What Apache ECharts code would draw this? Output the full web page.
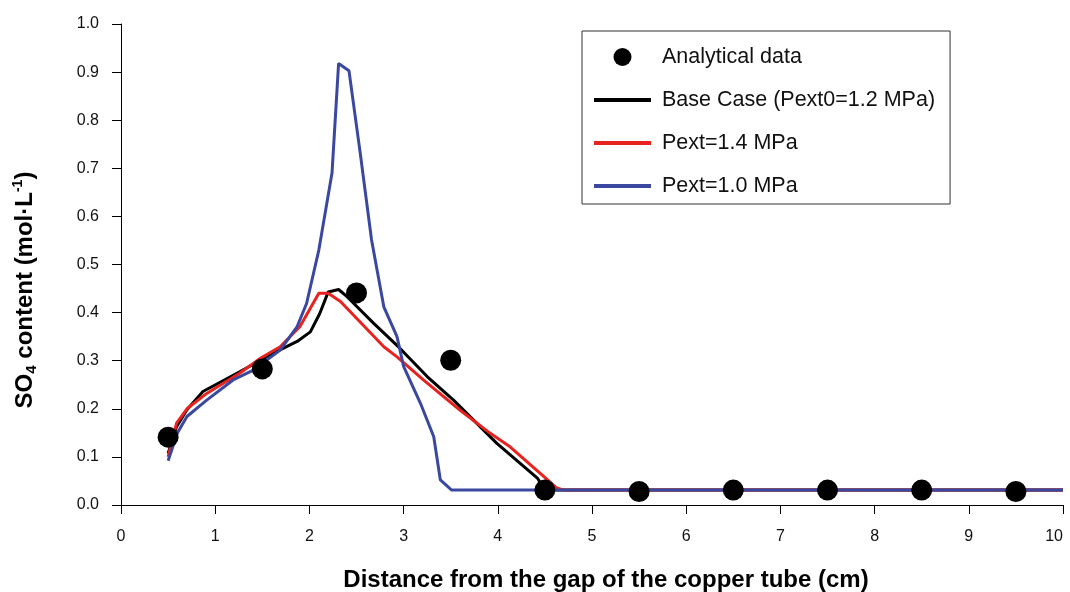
<!DOCTYPE html>
<html>
<head>
<meta charset="utf-8">
<script src="https://cdn.jsdelivr.net/npm/echarts@6/dist/echarts.min.js"></script>
<style>
  html, body { margin: 0; padding: 0; background: #fff; }
  #chart { width: 1070px; height: 592px; }
</style>
</head>
<body>
<div id="chart"></div>
<script>
// measured points (cm, mol/L)
const analyticalX = [0.5, 1.5, 2.5, 3.5, 4.5, 5.5, 6.5, 7.5, 8.5, 9.5]
const analyticalY = [0.141, 0.283, 0.441, 0.301, 0.031, 0.028, 0.031, 0.031, 0.031, 0.028]

// base case, Pext0 = 1.2 MPa
const baseX = [0.5, 0.59, 0.7, 0.87, 1.26, 1.65, 1.87, 2.01, 2.11, 2.2, 2.31, 2.4, 2.68, 2.96, 3.25, 3.53, 3.99, 4.42, 4.5, 10]
const baseY = [0.107, 0.163, 0.198, 0.236, 0.277, 0.319, 0.34, 0.36, 0.398, 0.443, 0.448, 0.433, 0.378, 0.326, 0.267, 0.218, 0.128, 0.056, 0.031, 0.031]

// Pext = 1.4 MPa
const p14X = [0.5, 0.59, 0.7, 0.91, 1.26, 1.48, 1.69, 1.9, 2.1, 2.2, 2.33, 2.79, 2.93, 3.21, 3.6, 3.92, 4.13, 4.49, 4.62, 4.7, 10]
const p14Y = [0.1, 0.17, 0.2, 0.232, 0.274, 0.305, 0.329, 0.371, 0.44, 0.44, 0.423, 0.329, 0.308, 0.26, 0.197, 0.149, 0.121, 0.059, 0.036, 0.031, 0.031]

// Pext = 1.0 MPa
const p10X = [0.5, 0.6, 0.7, 0.91, 1.19, 1.4, 1.69, 1.87, 1.97, 2.1, 2.24, 2.31, 2.42, 2.54, 2.66, 2.79, 2.93, 3.0, 3.18, 3.32, 3.39, 3.51, 10]
const p10Y = [0.092, 0.15, 0.184, 0.218, 0.26, 0.28, 0.322, 0.371, 0.419, 0.53, 0.69, 0.918, 0.903, 0.731, 0.551, 0.412, 0.35, 0.288, 0.211, 0.142, 0.052, 0.031, 0.031]

const legendNames = ['Analytical data', 'Base Case (Pext0=1.2 MPa)', 'Pext=1.4 MPa', 'Pext=1.0 MPa']

const zip = (xs, ys) => xs.map((x, i) => [x, ys[i]])

const fontFamily = '"Liberation Sans", Arial, sans-serif'
const lineIcon = 'path://M0,0 L57,0 L57,4 L0,4 Z'

let chart = echarts.init(document.getElementById('chart'))

chart.setOption({
  animation: false,
  textStyle: { fontFamily: fontFamily },
  grid: {
    left: 121,
    right: 7,
    top: 24,
    bottom: 87,
    containLabel: false,
    outerBoundsMode: 'none'
  },
  legend: {
    orient: 'vertical',
    left: 582,
    top: 31,
    padding: [15, 15, 7, 12],
    itemWidth: 57,
    itemHeight: 18,
    itemGap: 21,
    borderColor: '#333',
    borderWidth: 1,
    textStyle: { fontSize: 21.5, color: '#111', fontFamily: fontFamily, padding: [0, 0, 0, 6] },
    data: [
      { name: legendNames[0], icon: 'circle' },
      { name: legendNames[1], icon: lineIcon },
      { name: legendNames[2], icon: lineIcon },
      { name: legendNames[3], icon: lineIcon }
    ]
  },
  graphic: [
    {
      type: 'text',
      x: 25,
      y: 290,
      rotation: Math.PI / 2,
      style: {
        text: '{m|SO}{sub|4}{m| content (mol·L}{sup|-1}{m|)}',
        align: 'center',
        verticalAlign: 'middle',
        fontFamily: fontFamily,
        rich: {
          m: { fontSize: 24, fontWeight: 'bold', lineHeight: 28, fontFamily: fontFamily, verticalAlign: 'middle' },
          sub: { fontSize: 15, fontWeight: 'bold', lineHeight: 28, fontFamily: fontFamily, verticalAlign: 'bottom' },
          sup: { fontSize: 14, fontWeight: 'bold', lineHeight: 28, fontFamily: fontFamily, verticalAlign: 'top' }
        }
      }
    }
  ],
  xAxis: {
    type: 'value',
    min: 0,
    max: 10,
    interval: 1,
    name: 'Distance from the gap of the copper tube (cm)',
    nameLocation: 'middle',
    nameGap: 63,
    nameTextStyle: { fontSize: 24, fontWeight: 'bold', color: '#000', padding: [0, 0, 0, 28] },
    axisLine: { show: true, lineStyle: { color: '#000', width: 1 } },
    axisTick: { show: true, length: 9, lineStyle: { color: '#000' } },
    axisLabel: { fontSize: 16, color: '#111', margin: 24, alignMaxLabel: 'right' },
    splitLine: { show: false }
  },
  yAxis: {
    type: 'value',
    min: 0,
    max: 1,
    interval: 0.1,
    axisLine: { show: true, lineStyle: { color: '#000', width: 1 } },
    axisTick: { show: true, length: 9, lineStyle: { color: '#000' } },
    axisLabel: { fontSize: 16, color: '#111', margin: 22, formatter: v => v.toFixed(1) },
    splitLine: { show: false }
  },
  series: [
    {
      name: legendNames[0],
      type: 'scatter',
      data: zip(analyticalX, analyticalY),
      symbol: 'circle',
      symbolSize: 21,
      itemStyle: { color: '#000', opacity: 1 },
      z: 5
    },
    {
      name: legendNames[1],
      type: 'line',
      data: zip(baseX, baseY),
      showSymbol: false,
      symbol: 'none',
      lineStyle: { color: '#000', width: 3 },
      itemStyle: { color: '#000' },
      z: 2
    },
    {
      name: legendNames[2],
      type: 'line',
      data: zip(p14X, p14Y),
      showSymbol: false,
      symbol: 'none',
      lineStyle: { color: '#e8231f', width: 3 },
      itemStyle: { color: '#e8231f' },
      z: 3
    },
    {
      name: legendNames[3],
      type: 'line',
      data: zip(p10X, p10Y),
      showSymbol: false,
      symbol: 'none',
      lineStyle: { color: '#3a48a0', width: 3 },
      itemStyle: { color: '#3a48a0' },
      z: 4
    }
  ]
})
</script>
</body>
</html>
